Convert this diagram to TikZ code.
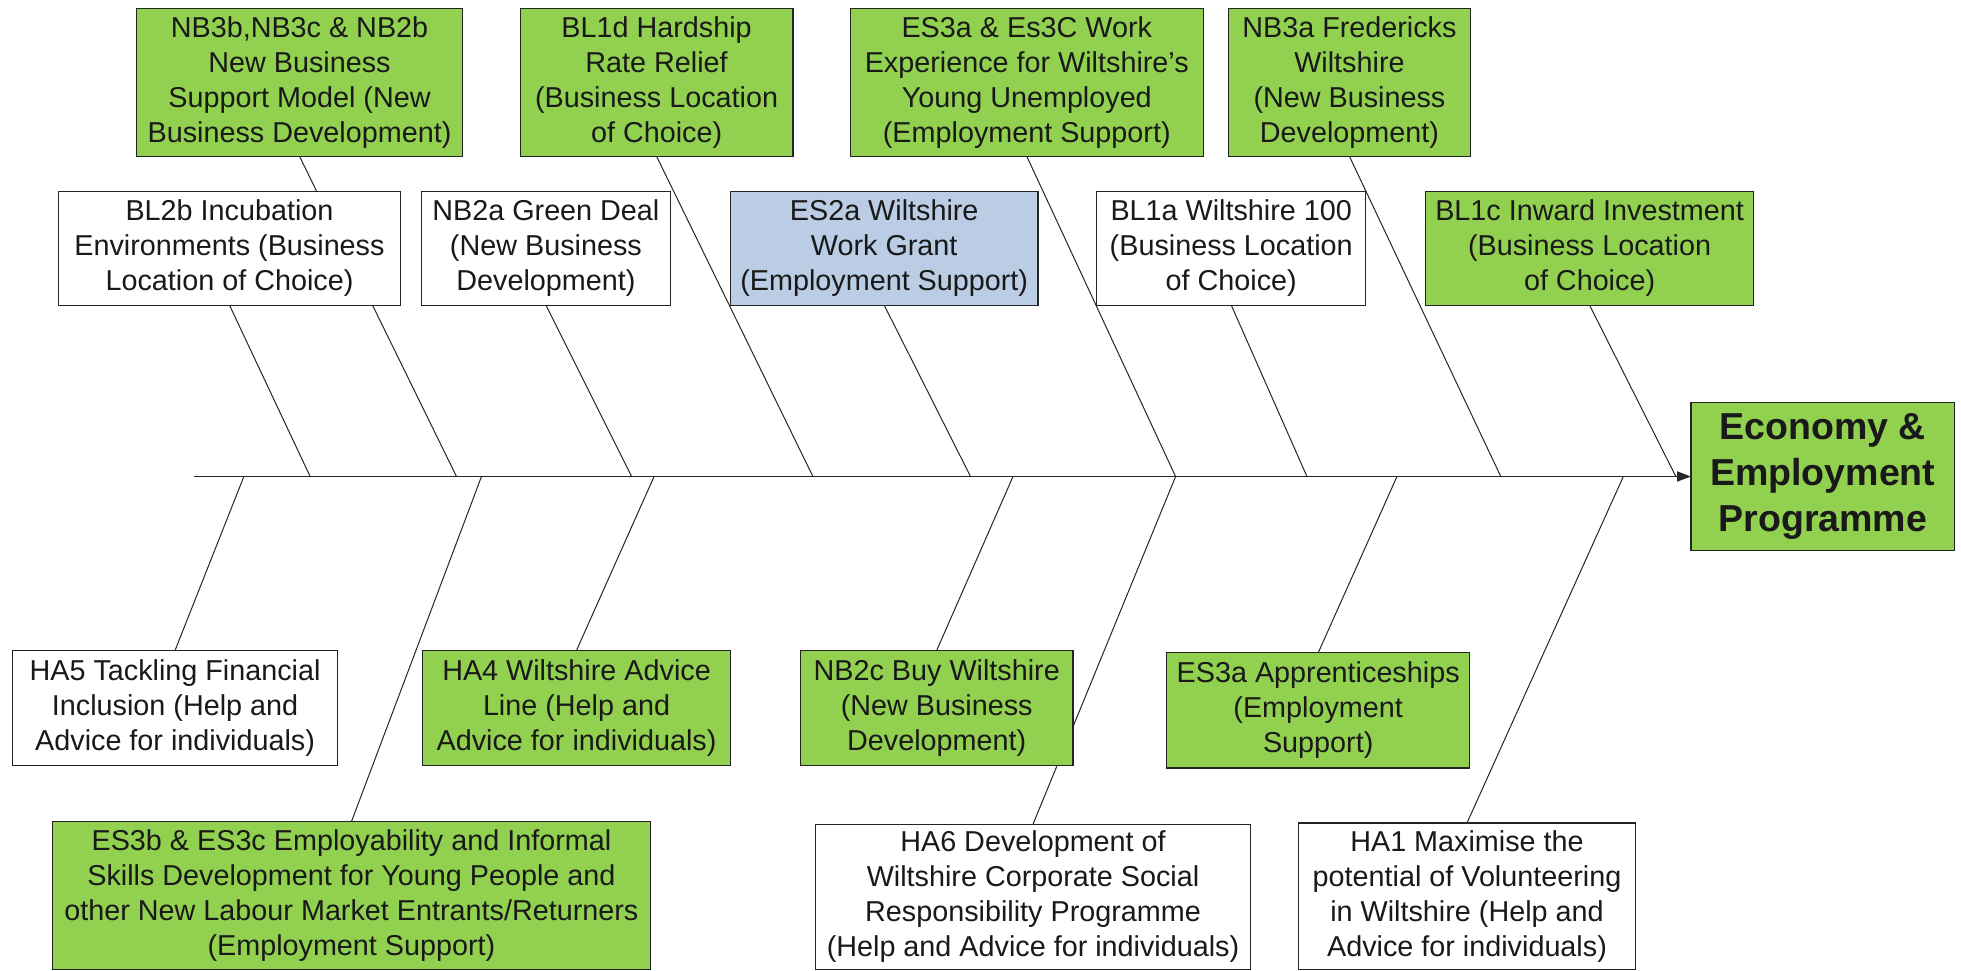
\documentclass[tikz,border=0pt]{standalone}
\usepackage{fontspec}
\setmainfont{Liberation Sans}
\usetikzlibrary{backgrounds,arrows.meta}
\definecolor{gfill}{RGB}{146,208,80}
\definecolor{bfill}{RGB}{186,205,228}
\definecolor{edgec}{RGB}{35,35,35}
\definecolor{txt}{RGB}{25,25,25}
\tikzset{
 box/.style={draw=edgec, line width=1pt, inner sep=0pt, outer sep=0pt, align=center,
   font=\fontsize{23}{28}\selectfont, text=txt},
 gbox/.style={box, fill=gfill},
 wbox/.style={box, fill=white},
 bbox/.style={box, fill=bfill},
 bone/.style={draw=black!85, line width=0.8pt},
 spine/.style={draw=black!85, line width=1.1pt},
}
\newcommand{\mybox}[7]{\node[#1, minimum width={(#5-#3)*1pt}, minimum height={(#6-#4)*1pt}] (#2) at ({(#3+#5)/2},{(#4+#6)/2}) {#7};}
\begin{document}
\begin{tikzpicture}[x=1pt,y=-1pt]
\useasboundingbox (0,0) rectangle (1568,776);
% top row
\mybox{gbox}{nb3b}{109}{7}{370}{125}{NB3b,NB3c \& NB2b\\New Business\\Support Model (New\\Business Development)}
\mybox{gbox}{bl1d}{416}{7}{634}{125}{BL1d Hardship\\Rate Relief\\(Business Location\\of Choice)}
\mybox{gbox}{es3ac}{680}{7}{962}{125}{ES3a \& Es3C Work\\Experience for Wiltshire’s\\Young Unemployed\\(Employment Support)}
\mybox{gbox}{nb3a}{982}{7}{1176}{125}{NB3a Fredericks\\Wiltshire\\(New Business\\Development)}
% second row
\mybox{wbox}{bl2b}{47}{153}{320}{244}{BL2b Incubation\\Environments (Business\\Location of Choice)}
\mybox{wbox}{nb2a}{337}{153}{536}{244}{NB2a Green Deal\\(New Business\\Development)}
\mybox{bbox}{es2a}{584}{153}{830}{244}{ES2a Wiltshire\\Work Grant\\(Employment Support)}
\mybox{wbox}{bl1a}{877}{153}{1092}{244}{BL1a Wiltshire 100\\(Business Location\\of Choice)}
\mybox{gbox}{bl1c}{1140}{153}{1402}{244}{BL1c Inward Investment\\(Business Location\\of Choice)}
% head
\mybox{gbox,font=\fontsize{30}{37}\selectfont\bfseries}{eco}{1352}{322}{1563}{440}{Economy \&\\Employment\\Programme}
% lower rows
\mybox{wbox}{ha5}{10}{520}{270}{612}{HA5 Tackling Financial\\Inclusion (Help and\\Advice for individuals)}
\mybox{gbox}{ha4}{338}{520}{584}{612}{HA4 Wiltshire Advice\\Line (Help and\\Advice for individuals)}
\mybox{gbox}{nb2c}{640}{520}{858}{612}{NB2c Buy Wiltshire\\(New Business\\Development)}
\mybox{gbox}{es3app}{933}{522}{1175}{614}{ES3a Apprenticeships\\(Employment\\Support)}
\mybox{gbox}{es3b}{42}{657}{520}{775}{ES3b \& ES3c Employability and Informal\\Skills Development for Young People and\\other New Labour Market Entrants/Returners\\(Employment Support)}
\mybox{wbox}{ha6}{652}{659}{1000}{775}{HA6 Development of\\Wiltshire Corporate Social\\Responsibility Programme\\(Help and Advice for individuals)}
\mybox{wbox}{ha1}{1038}{658}{1308}{775}{HA1 Maximise the\\potential of Volunteering\\in Wiltshire (Help and\\Advice for individuals)}
% spine junctions
\coordinate (s0) at (155,381);
\coordinate (u1) at (248,381);
\coordinate (u2) at (365,381);
\coordinate (u3) at (505,381);
\coordinate (u4) at (650,381);
\coordinate (u5) at (776,381);
\coordinate (u6) at (940,381);
\coordinate (u7) at (1045,381);
\coordinate (u8) at (1200,381);
\coordinate (u9) at (1340,381);
\coordinate (d1) at (195,381);
\coordinate (d2) at (385,381);
\coordinate (d3) at (523,381);
\coordinate (d4) at (810,381);
\coordinate (d5) at (940,381);
\coordinate (d6) at (1117,381);
\coordinate (d7) at (1298,381);
\begin{scope}[on background layer]
\draw[spine, -{Triangle[length=11pt,width=8pt]}] (s0) -- (eco.west);
\draw[bone] (bl2b.south) -- (u1);
\draw[bone] (nb3b.south) -- (u2);
\draw[bone] (nb2a.south) -- (u3);
\draw[bone] (bl1d.south) -- (u4);
\draw[bone] (es2a.south) -- (u5);
\draw[bone] (es3ac.south) -- (u6);
\draw[bone] (bl1a.south) -- (u7);
\draw[bone] (nb3a.south) -- (u8);
\draw[bone] (bl1c.south) -- (u9);
\draw[bone] (d1) -- (ha5.north);
\draw[bone] (d2) -- (es3b.north);
\draw[bone] (d3) -- (ha4.north);
\draw[bone] (d4) -- (nb2c.north);
\draw[bone] (d5) -- (ha6.north);
\draw[bone] (d6) -- (es3app.north);
\draw[bone] (d7) -- (ha1.north);
\end{scope}
\end{tikzpicture}
\end{document}
